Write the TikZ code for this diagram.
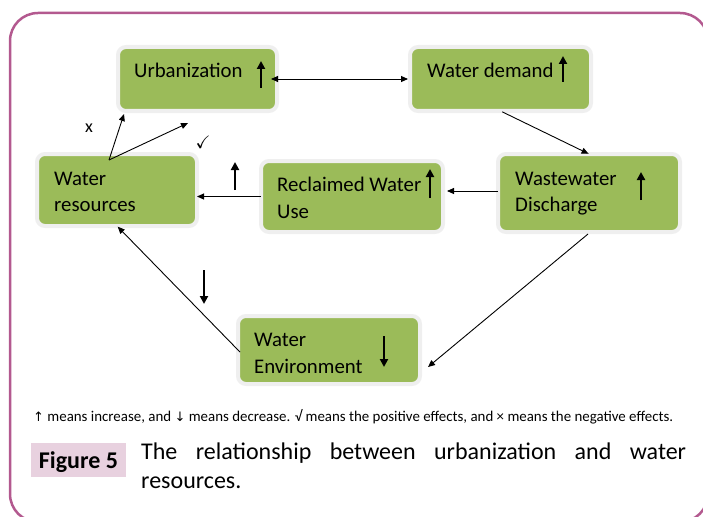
\documentclass[tikz,border=0pt]{standalone}
\usepackage{fontspec}
\setmainfont{Carlito}
\newfontfamily\djv{DejaVu Sans}
\usepackage{amssymb}
\usetikzlibrary{arrows.meta,calc}
\definecolor{boxgreen}{HTML}{9BBB59}
\definecolor{boxrim}{HTML}{EFEFEF}
\definecolor{framec}{HTML}{B3598F}
\definecolor{figpink}{HTML}{E8D1DF}
\begin{document}
\begin{tikzpicture}[x=1pt,y=-1pt,
  >={Triangle[length=7pt,width=6pt]},
  box/.style={draw=boxrim, line width=4pt, fill=boxgreen, rounded corners=8pt, inner sep=0pt, outer sep=0pt},
  lbl/.style={font=\fontsize{20.8}{24}\selectfont, inner sep=0pt, anchor=base west},
  conn/.style={line width=0.9pt},
  updown/.style={line width=2.6pt, -{Triangle[length=8pt,width=8pt]}}]
\useasboundingbox (0,0) rectangle (703,516);
\clip (0,0) rectangle (703,516);
\draw[framec, line width=2.5pt, rounded corners=28pt] (10,13) rectangle (708,522);

% boxes
\node[box, minimum width=159pt, minimum height=64pt] (urb) at (197.5,79) {};
\node[box, minimum width=181pt, minimum height=64pt] (wd) at (500.5,79) {};
\node[box, minimum width=160pt, minimum height=72pt] (wr) at (117,190) {};
\node[box, minimum width=182pt, minimum height=71pt] (rw) at (352,196.5) {};
\node[box, minimum width=182pt, minimum height=78pt] (ww) at (589,193) {};
\node[box, minimum width=182pt, minimum height=68pt] (we) at (329,350) {};

% texts
\node[lbl] (urbT) at (134,78) {Urbanization};
\node[lbl] (wdT) at (427,78) {Water demand};
\node[lbl] (wr1) at (54,185) {Water};
\node[lbl] (wr2) at (54,211) {resources};
\node[lbl] (rw1) at (277,191) {Reclaimed Water};
\node[lbl] (rw2) at (277,218) {Use};
\node[lbl] (ww1) at (515,185) {Wastewater};
\node[lbl] (ww2) at (515,211) {Discharge};
\node[lbl] (we1) at (254,346) {Water};
\node[lbl] (we2) at (254,373) {Environment};

% trend arrows
\draw[updown] (261,88) -- (261,61);
\draw[updown] (563,82) -- (563,56);
\draw[updown] (430,198) -- (430,169);
\draw[updown] (641,200) -- (641,172);
\draw[updown] (384,336) -- (384,367);
\draw[updown] (235,190) -- (235,162);
\draw[updown] (204,270) -- (204,304);

% connectors
\draw[conn,<->,shorten <=-6pt,shorten >=2pt] (urb.east) -- (wd.west);
\draw[conn,->,shorten <=2pt,shorten >=0.5pt] (wd.south) -- (ww.north);
\draw[conn,->,shorten >=4pt] ([yshift=2pt]ww.west) -- ([yshift=2pt]ww.west -| rw.east);
\draw[conn,->] (rw.west) -- (rw.west -| wr.east);
\coordinate (wrsrc) at ($(wr.north west)+(72,6)$);
\coordinate (tickend) at (188,123);
\draw[conn,->] (wrsrc) -- ($(urb.south west)+(6,3)$);
\draw[conn,->] (wrsrc) -- (tickend);
\node[font=\fontsize{18}{20}\selectfont] (xmark) at (89,128) {x};
\node[font=\fontsize{18}{20}\selectfont] (tick) at (203,142) {$\checkmark$};
\draw[conn,->] ($(ww.south)+(-1,2)$) -- ($(we.east)+(8,17)$);
\draw[conn,->,shorten <=-3pt,shorten >=1pt] (we.west) -- (wr.south);

% legend
\node[anchor=base west, inner sep=0pt, font=\fontsize{14.9}{17}\selectfont] (legend) at (33,421)
  {{\djv\fontsize{13}{15}\selectfont ↑} means increase, and {\djv\fontsize{13}{15}\selectfont ↓} means decrease. √ means the positive effects, and × means the negative effects.};

% caption
\node[fill=figpink, minimum width=95pt, minimum height=34pt, inner sep=0pt] (figlbl) at (78.5,460) {};
\node[anchor=base, inner sep=0pt, font=\bfseries\fontsize{24}{26}\selectfont] (figtxt) at (78.5,468) {Figure 5};
\node[anchor=north west, inner sep=0pt, text width=545pt, align=justify, font=\fontsize{24}{29}\selectfont] (caption) at (141,443)
  {The relationship between urbanization and water\linebreak resources.};
\end{tikzpicture}
\end{document}
